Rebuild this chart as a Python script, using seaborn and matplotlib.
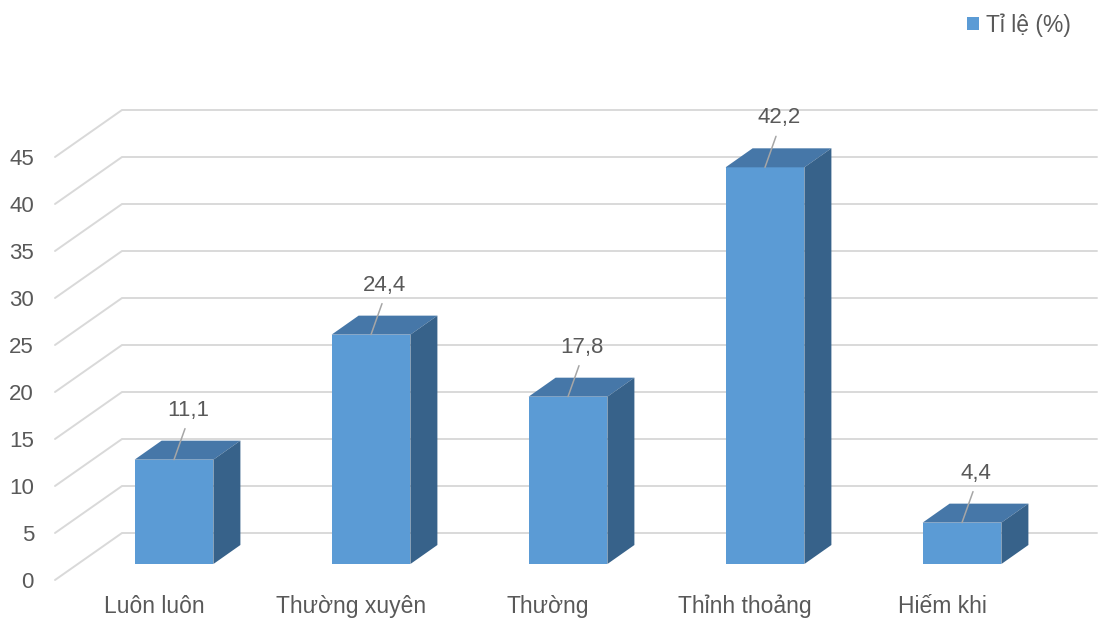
import matplotlib
matplotlib.use("Agg")
import matplotlib.pyplot as plt
import matplotlib.transforms as mtransforms
from matplotlib.patches import Polygon, Patch
import seaborn as sns
import pandas as pd

# Survey answers and their shares (%)
categories = ["Luôn luôn", "Thường xuyên", "Thường", "Thỉnh thoảng", "Hiếm khi"]
values = [11.1, 24.4, 17.8, 42.2, 4.4]
value_labels = ["11,1", "24,4", "17,8", "42,2", "4,4"]
y_ticks = [0, 5, 10, 15, 20, 25, 30, 35, 40, 45]
legend_label = "Tỉ lệ (%)"

FRONT = "#5B9BD5"
TOP = "#4677A8"
SIDE = "#37628A"
GRID = "#D9D9D9"
TEXT = "#595959"
LEADER = "#A6A6A6"

sns.set_theme(style="white")
plt.rcParams["font.family"] = ["Liberation Sans", "DejaVu Sans"]

W, H = 1108, 620
fig = plt.figure(figsize=(W / 100, H / 100), dpi=100)
ax = fig.add_axes([0, 0, 1, 1])

df = pd.DataFrame({"cat": categories, "val": values})
sns.barplot(data=df, x="cat", y="val", color=FRONT, width=0.4,
            saturation=1, linewidth=0, ax=ax, zorder=3)

# pixel geometry of the plot: 197 px per category, 9.4 px per percent
ax.set_xlim(-174 / 197, (W - 174) / 197)
ax.set_ylim(-(H - 564) / 9.4, 564 / 9.4)
ax.axis("off")

ident = mtransforms.IdentityTransform()

# perspective offsets (pixels)
WALL_FRONT_X, WALL_BACK_X, BACK_END_X = 55, 122, 1097
WALL_DROP, BACK_RISE = 16, 31
DEPTH_X, DEPTH_Y = 27, 19

# back wall and left side wall grid
for v in y_ticks:
    yv = ax.transData.transform((0, v))[1]
    ax.plot([WALL_FRONT_X, WALL_BACK_X, BACK_END_X],
            [yv - WALL_DROP, yv + BACK_RISE, yv + BACK_RISE],
            transform=ident, color=GRID, lw=1.4, zorder=1,
            solid_joinstyle="miter")
    ax.text(34, yv - WALL_DROP - 8, str(v), transform=ident, ha="right",
            va="baseline", fontsize=16, color=TEXT)

# top and side faces of each bar, with value labels and category names
bars = sorted(ax.patches, key=lambda p: p.get_x())
for p, lab, cat in zip(bars, value_labels, categories):
    x0, w, h = p.get_x(), p.get_width(), p.get_height()
    (lx, by), (rx, ty) = ax.transData.transform([(x0, 0), (x0 + w, h)])
    top = Polygon([(lx, ty), (rx, ty), (rx + DEPTH_X, ty + DEPTH_Y),
                   (lx + DEPTH_X, ty + DEPTH_Y)], closed=True,
                  transform=ident, facecolor=TOP, edgecolor="none", zorder=4)
    side = Polygon([(rx, by), (rx, ty), (rx + DEPTH_X, ty + DEPTH_Y),
                    (rx + DEPTH_X, by + DEPTH_Y)], closed=True,
                   transform=ident, facecolor=SIDE, edgecolor="none", zorder=4)
    ax.add_patch(top)
    ax.add_patch(side)

    cx = (lx + rx) / 2
    ax.plot([cx, cx + 11], [ty, ty + 31], transform=ident, color=LEADER,
            lw=1.1, zorder=5)
    ax.text(cx + 14, ty + 44, lab, transform=ident, ha="center",
            va="baseline", fontsize=16, color=TEXT, zorder=6)
    ax.text(cx - 20, H - 613, cat, transform=ident, ha="center",
            va="baseline", fontsize=16.5, color=TEXT)

fig.legend(handles=[Patch(facecolor=FRONT, edgecolor="none")],
           labels=[legend_label], loc="upper left",
           bbox_to_anchor=(958 / W, 1 - 4 / H), frameon=False,
           handlelength=0.5, handleheight=0.5, handletextpad=0.3,
           fontsize=16.5, labelcolor=TEXT, borderaxespad=0)

fig.savefig("out.png", dpi=100, facecolor="white")
